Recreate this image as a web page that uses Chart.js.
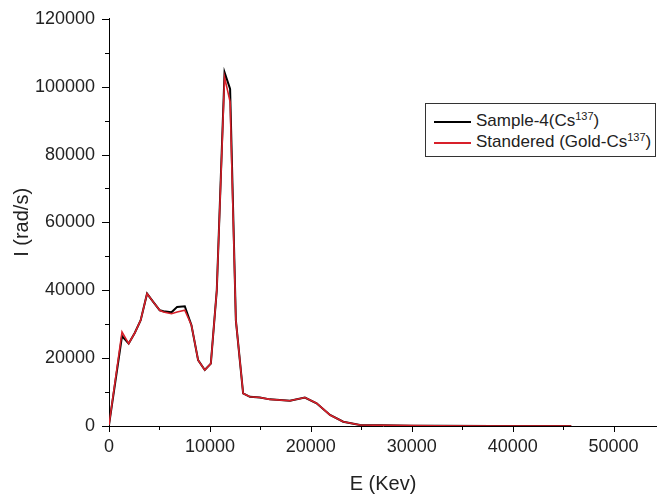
<!DOCTYPE html>
<html>
<head>
<meta charset="utf-8">
<script src="https://cdn.jsdelivr.net/npm/chart.js@4.4.1/dist/chart.umd.min.js"></script>
<style>
  body { margin: 0; background: #fff; }
  #wrap { position: relative; width: 657px; height: 500px; }
  #legend {
    position: absolute; left: 425px; top: 103px; width: 229px; height: 52px;
    border: 1px solid #333; background: #fff;
    font-family: "Liberation Sans", Arial, sans-serif; font-size: 17px; color: #222;
  }
  .row { position: absolute; left: 0; height: 20px; line-height: 20px; white-space: nowrap; }
  .swatch { position: absolute; left: 8px; top: 10px; width: 37px; height: 2px; }
  .label { position: absolute; left: 50px; top: 0; }
  .label sup { font-size: 11px; vertical-align: 6px; line-height: 0; }
</style>
</head>
<body>
<div id="wrap">
  <canvas id="myChart" width="657" height="500"></canvas>
  <div id="legend"></div>
</div>
<script>
// energy (keV) and intensity (rad/s)
const energy = [0, 1290, 1950, 2550, 3140, 3770, 4400, 5030, 5400, 6190, 6750, 7510, 8170, 8830, 9490, 10090, 10680, 11450, 12000, 12570, 13290, 13960, 14950, 15940, 17930, 19410, 20570, 21900, 23210, 24870, 27000, 30000, 32500, 38000, 45800];
const sampleCounts = [300, 26500, 24300, 27400, 31200, 39000, 36500, 34100, 33800, 33500, 35100, 35300, 29700, 19400, 16500, 18400, 40000, 104200, 99300, 31200, 9600, 8600, 8400, 7850, 7450, 8400, 6700, 3250, 1270, 300, 200, 100, 50, 0, 0];
const standardCounts = [300, 27700, 24300, 27400, 31200, 39000, 36500, 34100, 33600, 33100, 33600, 34100, 29700, 19400, 16500, 18400, 40000, 102800, 95500, 31200, 9600, 8600, 8400, 7850, 7450, 8400, 6700, 3250, 1270, 300, 200, 100, 50, 0, 0];

const seriesNames = [['Sample-4(Cs', '137', ')'], ['Standered (Gold-Cs', '137', ')']];
const seriesColors = ['#000000', '#d8202a'];

const xTickValues = [0, 10000, 20000, 30000, 40000, 50000];
const yTickValues = [0, 20000, 40000, 60000, 80000, 100000, 120000];
const xMax = 54300;
const yMax = 120000;

function toPoints(ys) {
  return energy.map((e, i) => ({ x: e, y: ys[i] }));
}

// major ticks at labelled values, minor ticks halfway between them
const tickMarks = {
  id: 'tickMarks',
  afterDraw(chart) {
    const c = chart.ctx;
    const xs = chart.scales.x, ys = chart.scales.y;
    const xHalf = (xTickValues[1] - xTickValues[0]) / 2;
    const yHalf = (yTickValues[1] - yTickValues[0]) / 2;
    c.save();
    c.strokeStyle = '#000';
    c.lineWidth = 1;
    c.beginPath();
    xTickValues.forEach(v0 => {
      [[v0, 6], [v0 + xHalf, 4]].forEach(([v, len]) => {
        if (v > xs.max) return;
        const px = Math.round(xs.getPixelForValue(v)) + 0.5;
        c.moveTo(px, xs.top);
        c.lineTo(px, xs.top + len);
      });
    });
    yTickValues.forEach(v0 => {
      [[v0, 7], [v0 + yHalf, 4]].forEach(([v, len]) => {
        if (v > ys.max) return;
        const py = Math.round(ys.getPixelForValue(v)) + 0.5;
        c.moveTo(ys.right, py);
        c.lineTo(ys.right - len, py);
      });
    });
    c.stroke();
    c.restore();
  }
};

const tickFont = { family: '"Liberation Sans", Arial, sans-serif', size: 18 };
const titleFont = { family: '"Liberation Sans", Arial, sans-serif', size: 20 };

const ctx = document.getElementById('myChart');

new Chart(ctx, {
  type: 'line',
  data: {
    datasets: [{
      label: seriesNames[0].join(''),
      data: toPoints(sampleCounts),
      borderColor: seriesColors[0],
      borderWidth: 2,
      pointRadius: 0,
      tension: 0,
      order: 1
    },
    {
      label: seriesNames[1].join(''),
      data: toPoints(standardCounts),
      borderColor: seriesColors[1],
      borderWidth: 1.6,
      pointRadius: 0,
      tension: 0,
      order: 0
    }]
  },
  options: {
    responsive: false,
    animation: false,
    layout: { padding: { top: 18, right: 0, left: 0, bottom: 0 } },
    plugins: {
      legend: { display: false },
      tooltip: { enabled: false }
    },
    scales: {
      x: {
        type: 'linear',
        min: 0,
        max: xMax,
        grid: { display: false, tickLength: 6 },
        border: { display: true, color: '#000', width: 1 },
        afterBuildTicks: s => { s.ticks = xTickValues.map(v => ({ value: v })); },
        ticks: {
          maxRotation: 0,
          minRotation: 0,
          autoSkip: false,
          padding: 4,
          color: '#222',
          font: tickFont,
          callback: v => String(v)
        },
        title: {
          display: true,
          text: 'E (Kev)',
          color: '#222',
          font: titleFont,
          padding: { top: 0, bottom: 4 }
        },
        afterFit: s => { s.height = 74; }
      },
      y: {
        min: 0,
        max: yMax,
        grid: { display: false, tickLength: 6 },
        border: { display: true, color: '#000', width: 1 },
        afterBuildTicks: s => { s.ticks = yTickValues.map(v => ({ value: v })); },
        ticks: {
          autoSkip: false,
          padding: 8,
          color: '#222',
          font: tickFont,
          callback: v => String(v)
        },
        title: {
          display: true,
          text: 'I (rad/s)',
          color: '#222',
          font: titleFont,
          padding: { top: 10, bottom: 0 }
        },
        afterFit: s => { s.width = 109; }
      }
    }
  },
  plugins: [tickMarks]
});

// legend with superscripts
const legend = document.getElementById('legend');
seriesNames.forEach((parts, i) => {
  const row = document.createElement('div');
  row.className = 'row';
  row.style.top = (7 + i * 21) + 'px';
  row.style.width = '100%';
  const sw = document.createElement('span');
  sw.className = 'swatch';
  sw.style.background = seriesColors[i];
  const lab = document.createElement('span');
  lab.className = 'label';
  lab.appendChild(document.createTextNode(parts[0]));
  const sup = document.createElement('sup');
  sup.textContent = parts[1];
  lab.appendChild(sup);
  lab.appendChild(document.createTextNode(parts[2]));
  row.appendChild(sw);
  row.appendChild(lab);
  legend.appendChild(row);
});
</script>
</body>
</html>
